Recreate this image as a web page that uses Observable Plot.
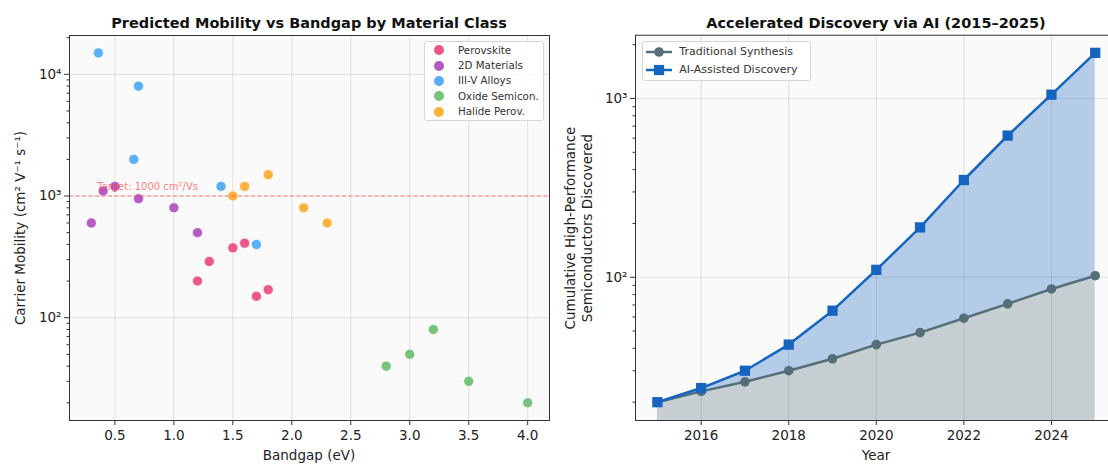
<!DOCTYPE html>
<html><head><meta charset="utf-8">
<script src="https://cdn.jsdelivr.net/npm/d3@7"></script>
<script src="https://cdn.jsdelivr.net/npm/@observablehq/plot@0.6"></script>
<style>
html,body{margin:0;padding:0;background:#fff;overflow:hidden}
#root{position:relative;width:1108px;height:464px;overflow:hidden;font-family:"DejaVu Sans",sans-serif;color:#222}
.abs{position:absolute;white-space:nowrap}
.title{font-weight:bold;font-size:14.5px;line-height:16px;text-align:center;color:#111}
.lab{font-size:13.5px;line-height:16px;text-align:center;color:#222}
.legend{background:rgba(255,255,255,0.85);border:1px solid #d6d6d6;border-radius:3px;box-sizing:border-box}
.li{position:absolute;line-height:12px;color:#333}
</style></head><body><div id="root"></div>
<script>
// ---------- Data: left panel ----------
const classes = ["Perovskite", "2D Materials", "III-V Alloys", "Oxide Semicon.", "Halide Perov."];
const classColors = ["#ec407a", "#ab47bc", "#42a5f5", "#66bb6a", "#ffa726"];

const perovskiteBandgap = [1.2, 1.3, 1.5, 1.6, 1.7, 1.8];
const perovskiteMobility = [200, 290, 375, 410, 150, 170];
const twoDBandgap = [0.3, 0.4, 0.5, 0.7, 1.0, 1.2];
const twoDMobility = [600, 1100, 1200, 950, 800, 500];
const iiivBandgap = [0.36, 0.7, 0.66, 1.4, 1.7];
const iiivMobility = [15000, 8000, 2000, 1200, 400];
const oxideBandgap = [2.8, 3.0, 3.2, 3.5, 4.0];
const oxideMobility = [40, 50, 80, 30, 20];
const halideBandgap = [1.5, 1.6, 1.8, 2.1, 2.3];
const halideMobility = [1000, 1200, 1500, 800, 600];

const targetMobility = 1000;
const targetLabel = "Target: 1000 cm²/Vs";
const targetLabelX = 0.35;

const bandgapTicks = [0.5, 1.0, 1.5, 2.0, 2.5, 3.0, 3.5, 4.0];
const mobilityMajorTicks = [100, 1000, 10000];
const mobilityMinorTicks = [20,30,40,50,60,70,80,90,200,300,400,500,600,700,800,900,2000,3000,4000,5000,6000,7000,8000,9000,20000];

// ---------- Data: right panel ----------
const years = [2015, 2016, 2017, 2018, 2019, 2020, 2021, 2022, 2023, 2024, 2025];
const traditional = [20, 23, 26, 30, 35, 42, 49, 59, 71, 86, 102];
const aiAssisted = [20, 24, 30, 42, 65, 110, 190, 350, 620, 1050, 1800];
const yearTicks = [2016, 2018, 2020, 2022, 2024];
const countMajorTicks = [100, 1000];
const countMinorTicks = [20,30,40,50,60,70,80,90,200,300,400,500,600,700,800,900,2000];
const seriesNames = ["Traditional Synthesis", "AI-Assisted Discovery"];
const seriesColors = ["#546e7a", "#1565c0"];
const fillBaseline = 1;

// ---------- Build tables ----------
const groups = [
  [perovskiteBandgap, perovskiteMobility],
  [twoDBandgap, twoDMobility],
  [iiivBandgap, iiivMobility],
  [oxideBandgap, oxideMobility],
  [halideBandgap, halideMobility]
];
const scatter = [];
groups.forEach(([bg, mob], i) => bg.forEach((b, j) => scatter.push({cls: classes[i], bandgap: b, mobility: mob[j]})));
const rows = years.map((y, i) => ({year: y, trad: traditional[i], ai: aiAssisted[i]}));

const supDigits = {"0":"⁰","1":"¹","2":"²","3":"³","4":"⁴","5":"⁵"};
const supFmt = d => "10" + String(Math.round(Math.log10(d))).split("").map(c => supDigits[c]).join("");

const baseStyle = {fontFamily: "DejaVu Sans, sans-serif", fontSize: "13.5px", color: "#222", background: "transparent", overflow: "visible"};
const gridStyle = {stroke: "#b0b0b0", strokeOpacity: 0.35, strokeWidth: 1};

const root = document.getElementById("root");

// ---------- Left chart ----------
const left = Plot.plot({
  width: 560, height: 464,
  marginTop: 35, marginLeft: 69, marginRight: 11, marginBottom: 44,
  style: baseStyle,
  x: {domain: [0.115, 4.185]},
  y: {type: "log", domain: [14.3, 20850]},
  color: {domain: classes, range: classColors},
  marks: [
    Plot.frame({fill: "#fafafa", stroke: null}),
    Plot.gridX({ticks: bandgapTicks, ...gridStyle}),
    Plot.gridY({ticks: mobilityMajorTicks, ...gridStyle}),
    Plot.dot(scatter, {x: "bandgap", y: "mobility", fill: "cls", r: 5, stroke: "white", strokeWidth: 0.6, fillOpacity: 0.88}),
    Plot.ruleY([targetMobility], {stroke: "#ff4444", strokeOpacity: 0.65, strokeWidth: 1, strokeDasharray: "4,2.5"}),
    Plot.text([targetLabel], {x: targetLabelX, y: targetMobility, text: d => d, textAnchor: "start", dy: -9, fill: "#ff4444", fillOpacity: 0.7, fontSize: 10}),
    Plot.axisX({ticks: bandgapTicks, tickFormat: d3.format(".1f"), tickSize: 5, tickPadding: 5, label: null, stroke: "#333"}),
    Plot.axisY({ticks: mobilityMajorTicks, tickFormat: supFmt, tickSize: 5, tickPadding: 3, label: null, stroke: "#333"}),
    Plot.axisY({ticks: mobilityMinorTicks, tickFormat: () => "", tickSize: 2.5, label: null, stroke: "#333"}),
    Plot.frame({stroke: "#333", strokeWidth: 1})
  ]
});
left.style.position = "absolute"; left.style.left = "0px"; left.style.top = "0px";
root.appendChild(left);

// ---------- Right chart ----------
const right = Plot.plot({
  width: 570, height: 464,
  marginTop: 34.7, marginLeft: 75, marginRight: 13.4, marginBottom: 44,
  style: baseStyle,
  x: {domain: [2014.5, 2025.5]},
  y: {type: "log", domain: [15.8, 2260]},
  marks: [
    Plot.frame({fill: "#fafafa", stroke: null}),
    Plot.gridX({ticks: yearTicks, ...gridStyle}),
    Plot.gridY({ticks: countMajorTicks, ...gridStyle}),
    Plot.areaY(rows, {x: "year", y1: "trad", y2: "ai", fill: seriesColors[1], fillOpacity: 0.3}),
    Plot.areaY(rows, {x: "year", y1: fillBaseline, y2: "trad", fill: seriesColors[0], fillOpacity: 0.3, clip: true}),
    Plot.lineY(rows, {x: "year", y: "trad", stroke: seriesColors[0], strokeWidth: 2.5}),
    Plot.dot(rows, {x: "year", y: "trad", r: 4.8, fill: seriesColors[0]}),
    Plot.lineY(rows, {x: "year", y: "ai", stroke: seriesColors[1], strokeWidth: 2.5}),
    Plot.dot(rows, {x: "year", y: "ai", symbol: "square", r: 5.8, fill: seriesColors[1]}),
    Plot.axisX({ticks: yearTicks, tickFormat: d => String(d), tickSize: 5, tickPadding: 5, label: null, stroke: "#333"}),
    Plot.axisY({ticks: countMajorTicks, tickFormat: supFmt, tickSize: 5, tickPadding: 3, label: null, stroke: "#333"}),
    Plot.axisY({ticks: countMinorTicks, tickFormat: () => "", tickSize: 2.5, label: null, stroke: "#333"}),
    Plot.frame({stroke: "#333", strokeWidth: 1})
  ]
});
right.style.position = "absolute"; right.style.left = "560px"; right.style.top = "0px";
root.appendChild(right);

// ---------- Text ----------
function addDiv(cls, text, css) {
  const d = document.createElement("div");
  d.className = "abs " + cls;
  d.textContent = text;
  Object.assign(d.style, css);
  root.appendChild(d);
  return d;
}
addDiv("title", "Predicted Mobility vs Bandgap by Material Class", {left: "69px", width: "480px", top: "15px"});
addDiv("title", "Accelerated Discovery via AI (2015–2025)", {left: "635px", width: "482px", top: "15px"});
addDiv("lab", "Bandgap (eV)", {left: "109px", width: "400px", top: "447px"});
addDiv("lab", "Year", {left: "676px", width: "400px", top: "447px"});
addDiv("lab", "Carrier Mobility (cm² V⁻¹ s⁻¹)", {left: (20 - 200) + "px", width: "400px", top: (227.5 - 8) + "px", transform: "rotate(-90deg)", transformOrigin: "50% 50%"});
const yl = addDiv("lab", "", {left: (578.5 - 200) + "px", width: "400px", top: (227.5 - 17) + "px", height: "34px", lineHeight: "17px", transform: "rotate(-90deg)", transformOrigin: "50% 50%", whiteSpace: "normal"});
yl.innerHTML = "Cumulative High-Performance<br>Semiconductors Discovered";

// ---------- Left legend ----------
const lg = document.createElement("div");
lg.className = "abs legend";
Object.assign(lg.style, {left: "423.7px", top: "40.7px", width: "120.3px", height: "80.3px"});
root.appendChild(lg);
classes.forEach((c, i) => {
  const cy = 49.3 + i * 15.35 - 40.7;
  const s = document.createElement("div");
  Object.assign(s.style, {position: "absolute", left: (438.3 - 423.7 - 5) + "px", top: (cy - 5) + "px", width: "10px", height: "10px", borderRadius: "50%", background: classColors[i], opacity: 0.9});
  lg.appendChild(s);
  const t = document.createElement("div");
  t.className = "li";
  t.textContent = c;
  Object.assign(t.style, {left: (457 - 423.7) + "px", top: (cy - 6.5) + "px", fontSize: "10.3px"});
  lg.appendChild(t);
});

// ---------- Right legend ----------
const rg = document.createElement("div");
rg.className = "abs legend";
Object.assign(rg.style, {left: "642px", top: "41.3px", width: "168.7px", height: "40px"});
root.appendChild(rg);
seriesNames.forEach((n, i) => {
  const cy = [51.3, 69.3][i] - 41.3;
  const svgNS = "http://www.w3.org/2000/svg";
  const sv = document.createElementNS(svgNS, "svg");
  sv.setAttribute("width", "30"); sv.setAttribute("height", "14");
  Object.assign(sv.style, {position: "absolute", left: (645 - 642 - 1) + "px", top: (cy - 7) + "px"});
  const ln = document.createElementNS(svgNS, "line");
  ln.setAttribute("x1", 1); ln.setAttribute("x2", 27); ln.setAttribute("y1", 7); ln.setAttribute("y2", 7);
  ln.setAttribute("stroke", seriesColors[i]); ln.setAttribute("stroke-width", 2.5);
  sv.appendChild(ln);
  let mk;
  if (i === 0) {
    mk = document.createElementNS(svgNS, "circle");
    mk.setAttribute("cx", 14); mk.setAttribute("cy", 7); mk.setAttribute("r", 4.8);
  } else {
    mk = document.createElementNS(svgNS, "rect");
    mk.setAttribute("x", 14 - 5.1); mk.setAttribute("y", 7 - 5.1); mk.setAttribute("width", 10.2); mk.setAttribute("height", 10.2);
  }
  mk.setAttribute("fill", seriesColors[i]);
  sv.appendChild(mk);
  rg.appendChild(sv);
  const t = document.createElement("div");
  t.className = "li";
  t.textContent = n;
  Object.assign(t.style, {left: (679.3 - 642 - 1) + "px", top: (cy - 7) + "px", fontSize: "11px", lineHeight: "14px"});
  rg.appendChild(t);
});
</script></body></html>
